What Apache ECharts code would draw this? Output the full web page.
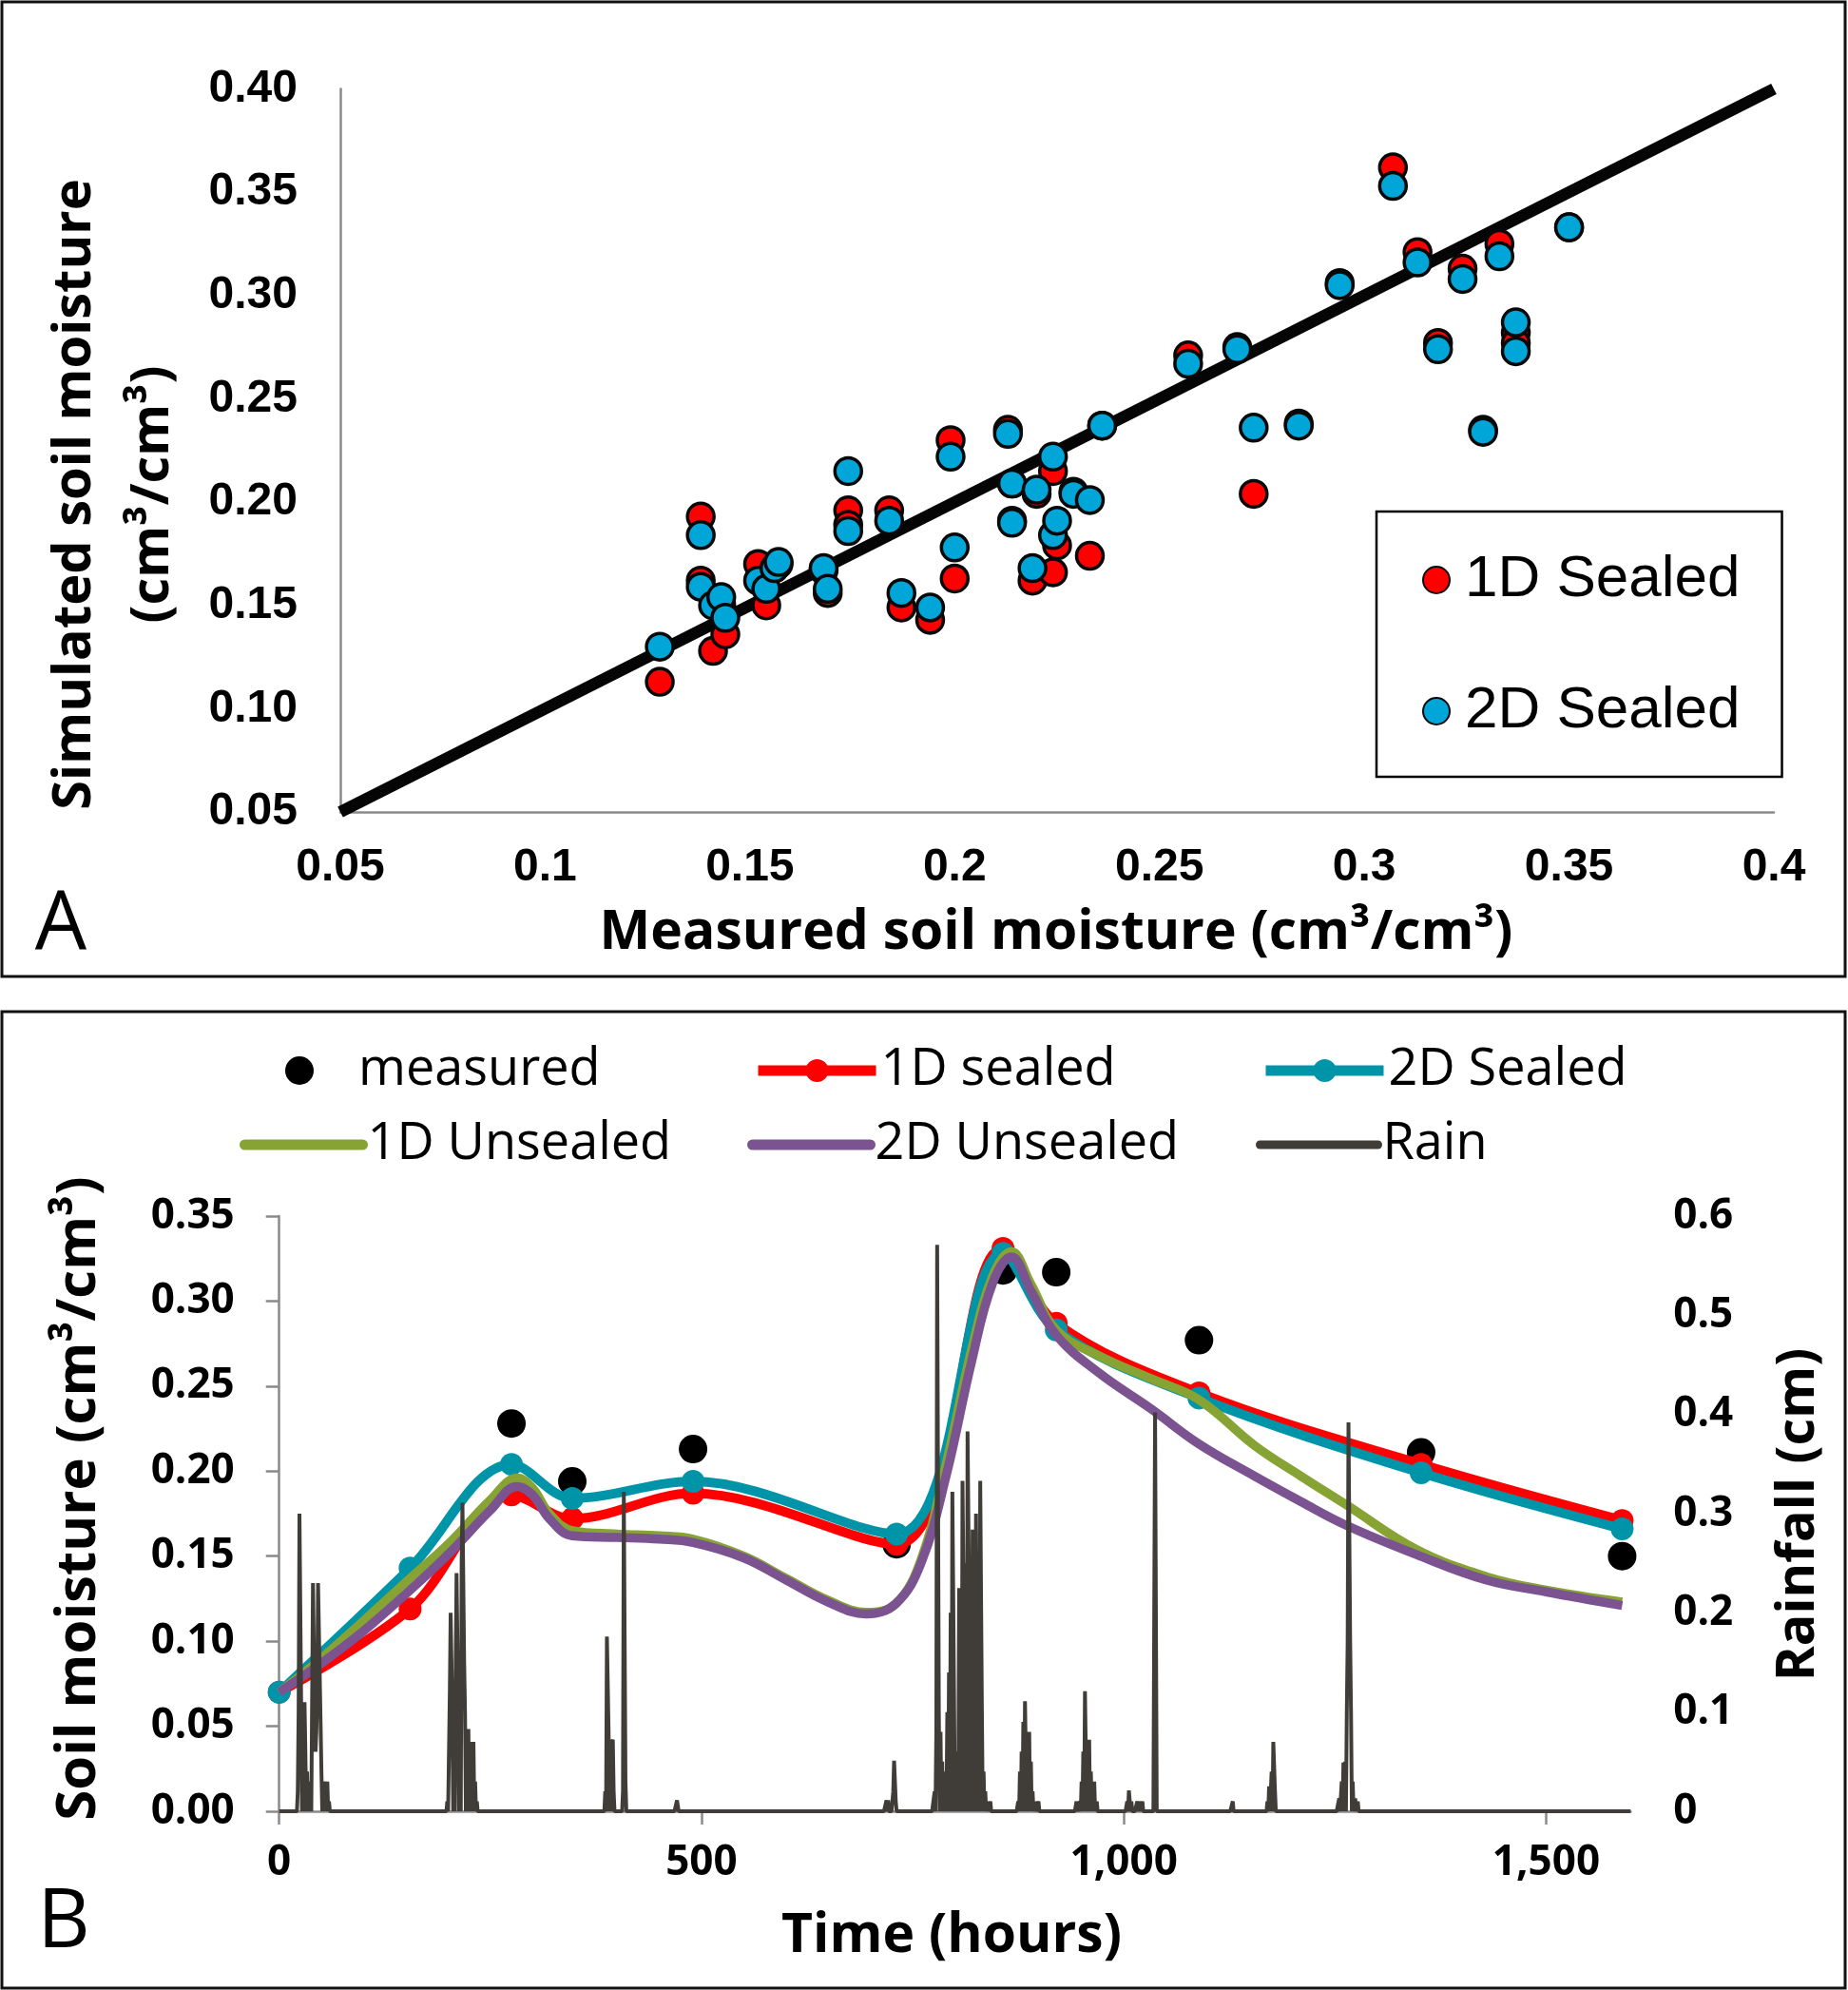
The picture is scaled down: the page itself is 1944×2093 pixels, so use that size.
<!DOCTYPE html>
<html>
<head>
<meta charset="utf-8">
<script src="https://cdn.jsdelivr.net/npm/echarts/dist/echarts.min.js"></script>
<style>
html,body{margin:0;padding:0;background:#fff;}
#c{width:1944px;height:2093px;}
</style>
</head>
<body>
<div id="c"></div>
<script>
// ---------- Panel A data ----------
const measuredA = [0.128,0.138,0.138,0.141,0.143,0.144,0.152,0.154,0.156,0.157,0.168,0.169,0.174,0.174,0.184,0.187,0.194,0.199,0.200,0.213,0.214,0.214,0.219,0.220,0.224,0.224,0.225,0.229,0.233,0.236,0.257,0.269,0.273,0.284,0.294,0.307,0.313,0.318,0.324,0.329,0.333,0.337,0.337,0.350];
const sim1DSealedA = [0.113,0.193,0.162,0.128,0.150,0.136,0.170,0.150,0.168,0.170,0.167,0.156,0.196,0.189,0.196,0.149,0.143,0.230,0.163,0.235,0.209,0.191,0.162,0.204,0.215,0.166,0.179,0.205,0.174,0.237,0.271,0.275,0.204,0.238,0.306,0.362,0.321,0.277,0.313,0.235,0.325,0.282,0.277,0.333];
const sim2DSealedA = [0.130,0.184,0.159,0.150,0.154,0.144,0.162,0.158,0.168,0.171,0.168,0.158,0.215,0.186,0.191,0.156,0.149,0.222,0.178,0.233,0.209,0.190,0.168,0.206,0.222,0.184,0.191,0.204,0.201,0.237,0.267,0.274,0.236,0.237,0.305,0.353,0.316,0.274,0.308,0.234,0.319,0.287,0.273,0.333];
const oneToOne = [0.05, 0.4];

// ---------- Panel B data ----------
const measTime = [275, 347, 490, 731, 857, 920, 1089, 1352, 1590];
const measVal  = [0.228, 0.194, 0.213, 0.157, 0.318, 0.317, 0.277, 0.211, 0.150];
const sealTime = [0, 155, 275, 347, 490, 731, 857, 920, 1089, 1352, 1590];
const sealed1D = [0.070, 0.119, 0.186, 0.172, 0.187, 0.157, 0.331, 0.287, 0.246, 0.204, 0.171];
const sealed2D = [0.070, 0.143, 0.204, 0.184, 0.194, 0.163, 0.328, 0.283, 0.243, 0.199, 0.166];
const unsealTime = [0, 50, 100, 155, 200, 250, 282, 300, 320, 347, 400, 450, 490, 550, 600, 650, 695, 730, 760, 790, 820, 845, 867, 890, 920, 970, 1034, 1089, 1155, 1210, 1264, 1346, 1429, 1500, 1590];
const unsealed1D = [0.070, 0.090, 0.112, 0.137, 0.157, 0.183, 0.196, 0.190, 0.175, 0.165, 0.163, 0.162, 0.160, 0.150, 0.137, 0.124, 0.117, 0.122, 0.148, 0.205, 0.272, 0.315, 0.329, 0.310, 0.283, 0.268, 0.254, 0.242, 0.215, 0.197, 0.180, 0.154, 0.138, 0.130, 0.123];
const unsealed2D = [0.070, 0.087, 0.106, 0.130, 0.151, 0.177, 0.191, 0.186, 0.172, 0.162, 0.161, 0.160, 0.158, 0.149, 0.136, 0.123, 0.116, 0.122, 0.146, 0.198, 0.265, 0.311, 0.326, 0.306, 0.280, 0.258, 0.236, 0.216, 0.197, 0.182, 0.168, 0.151, 0.136, 0.129, 0.121];
const rainHour = [22,23,24,25,26,28,30,31,33,35,37,40,41,42,43,44,45,46,47,48,49,50,52,55,57,59,
  199,201,202,203,204,205,207,209,210,211,212,214,216,217,218,219,220,222,224,226,228,230,232,234,
  386,388,389,390,392,394,395,396,407,408,409,410,471,472,
  719,721,727,728,729,730,
  776,778,779,780,781,783,785,787,789,791,793,795,797,798,799,801,803,805,807,809,810,811,813,815,816,817,819,821,822,823,825,826,828,830,831,832,834,836,839,842,
  875,877,879,881,883,884,886,888,890,892,895,899,
  944,948,950,952,954,955,957,959,961,963,965,968,
  1004,1006,1007,1009,1016,1019,1022,1037,1038,1129,
  1170,1172,1175,1177,1178,1179,
  1255,1258,1260,1262,1264,1265,1266,1267,1268,1269,1271,1274,1277];
const rainCm = [0.02,0.10,0.30,0.30,0.11,0.10,0.11,0.06,0.04,0.03,0.02,0.23,0.23,0.10,0.06,0.08,0.12,0.23,0.23,0.23,0.09,0.04,0.03,0.03,0.03,0.01,
  0.01,0.06,0.12,0.20,0.20,0.10,0.08,0.15,0.24,0.24,0.10,0.16,0.25,0.311,0.311,0.15,0.10,0.083,0.083,0.06,0.07,0.07,0.03,0.01,
  0.02,0.176,0.176,0.08,0.03,0.07,0.072,0.02,0.02,0.322,0.322,0.03,0.011,0.011,
  0.011,0.011,0.02,0.051,0.051,0.01,
  0.02,0.08,0.571,0.571,0.10,0.08,0.05,0.02,0.04,0.10,0.14,0.20,0.322,0.322,0.12,0.06,0.05,0.225,0.20,0.333,0.333,0.15,0.25,0.383,0.383,0.20,0.10,0.284,0.284,0.15,0.30,0.30,0.22,0.333,0.333,0.10,0.04,0.02,0.01,0.01,
  0.01,0.04,0.06,0.09,0.111,0.111,0.08,0.08,0.05,0.02,0.01,0.01,
  0.01,0.01,0.03,0.06,0.121,0.121,0.07,0.072,0.04,0.03,0.03,0.01,
  0.01,0.021,0.021,0.01,0.01,0.01,0.01,0.402,0.402,0.01,
  0.01,0.025,0.04,0.07,0.07,0.02,
  0.013,0.03,0.049,0.05,0.10,0.17,0.392,0.392,0.17,0.10,0.03,0.013,0.01];
const rainEnd = 1600;
const xTicksB = [0, 500, 1000, 1500];

// ---------- build ----------
const zip = (a, b) => a.map((v, i) => [v, b[i]]);
const rainMap = {};
rainHour.forEach((h, i) => { rainMap[h] = rainCm[i]; });
const rainSeries = [];
for (let h = 0; h <= rainEnd; h++) rainSeries.push([h, rainMap[h] || 0]);

const C = {red: '#ff0000', blueA: '#00a6d8', teal: '#0094a8', green: '#86a333', purple: '#7a5390', rain: '#403c37'};
const chart = echarts.init(document.getElementById('c'), null, {renderer: 'canvas'});
const gray = '#8a8a8a';
const fTick = 'Open Sans';
const legTxt = {fontFamily: 'Open Sans', fontSize: 54, color: '#000'};

const option = {
  animation: false,
  backgroundColor: '#fff',
  grid: [
    {left: 358, top: 93.5, width: 1508, height: 760.5},
    {left: 293.7, top: 1279, width: 1421.6, height: 626}
  ],
  xAxis: [
    {type: 'value', gridIndex: 0, min: 0.05, max: 0.4, interval: 0.05,
     axisLine: {lineStyle: {color: gray, width: 2.5}}, axisTick: {show: false}, splitLine: {show: false},
     axisLabel: {margin: 35, color: '#000', fontFamily: 'Liberation Sans', fontWeight: 'bold', fontSize: 48,
       formatter: v => String(parseFloat(v.toFixed(2)))}},
    {type: 'value', gridIndex: 1, min: 0, max: 1600, interval: 500,
     axisLine: {lineStyle: {color: gray, width: 2.5}},
     axisTick: {show: true, length: 14, lineStyle: {color: gray, width: 2.5}, customValues: xTicksB},
     splitLine: {show: false},
     axisLabel: {margin: 32, color: '#000', fontFamily: fTick, fontWeight: 'bold', fontSize: 44, customValues: xTicksB,
       formatter: v => v.toLocaleString('en-US')}}
  ],
  yAxis: [
    {type: 'value', gridIndex: 0, min: 0.05, max: 0.4, interval: 0.05,
     axisLine: {show: true, lineStyle: {color: gray, width: 2.5}}, axisTick: {show: false}, splitLine: {show: false},
     axisLabel: {margin: 45, color: '#000', fontFamily: 'Liberation Sans', fontWeight: 'bold', fontSize: 48,
       formatter: v => v.toFixed(2)}},
    {type: 'value', gridIndex: 1, min: 0, max: 0.35, interval: 0.05,
     axisLine: {show: true, lineStyle: {color: gray, width: 2.5}},
     axisTick: {show: true, length: 14, lineStyle: {color: gray, width: 2.5}}, splitLine: {show: false},
     axisLabel: {margin: 47, color: '#000', fontFamily: fTick, fontWeight: 'bold', fontSize: 44,
       formatter: v => v.toFixed(2)}},
    {type: 'value', gridIndex: 1, min: 0, max: 0.6, interval: 0.1, position: 'right',
     axisLine: {show: false}, axisTick: {show: false}, splitLine: {show: false},
     axisLabel: {margin: 45, color: '#000', fontFamily: fTick, fontWeight: 'bold', fontSize: 44,
       formatter: v => String(parseFloat(v.toFixed(1)))}}
  ],
  legend: [
    {orient: 'vertical', left: 1448, top: 538, padding: [41, 44, 38, 48], itemWidth: 50, itemHeight: 28, itemGap: 76,
     borderColor: '#000', borderWidth: 2.5, symbolKeepAspect: true,
     textStyle: {fontFamily: 'Liberation Sans', fontSize: 62, color: '#000'},
     formatter: n => n.replace(/^A: /, ''),
     data: ['A: 1D Sealed', 'A: 2D Sealed']},
    {left: 300, top: 1099, padding: 0, itemWidth: 114, itemHeight: 30, symbolKeepAspect: true,
     textStyle: legTxt, data: ['measured']},
    {left: 792, top: 1099, padding: 0, itemWidth: 124, itemHeight: 30, lineStyle: {width: 11},
     textStyle: legTxt, data: ['1D sealed']},
    {left: 1326, top: 1099, padding: 0, itemWidth: 124, itemHeight: 30, lineStyle: {width: 11},
     textStyle: legTxt, data: ['2D Sealed']},
    {left: 252, top: 1177, padding: 0, itemWidth: 124, itemHeight: 26, lineStyle: {width: 11, cap: 'round'},
     itemStyle: {opacity: 0},
     textStyle: legTxt, data: ['1D Unsealed']},
    {left: 786, top: 1177, padding: 0, itemWidth: 124, itemHeight: 26, lineStyle: {width: 11, cap: 'round'},
     itemStyle: {opacity: 0},
     textStyle: legTxt, data: ['2D Unsealed']},
    {left: 1321, top: 1177, padding: 0, itemWidth: 124, itemHeight: 26, lineStyle: {width: 9, cap: 'round'},
     itemStyle: {opacity: 0},
     textStyle: legTxt, data: ['Rain']}
  ],
  series: [
    {name: '1:1', type: 'line', xAxisIndex: 0, yAxisIndex: 0, data: zip(oneToOne, oneToOne),
     showSymbol: false, lineStyle: {color: '#050505', width: 12.5}, itemStyle: {color: '#050505'}, z: 1, silent: true},
    {name: 'A: 1D Sealed', type: 'scatter', xAxisIndex: 0, yAxisIndex: 0, data: zip(measuredA, sim1DSealedA),
     symbol: 'circle', symbolSize: 28, itemStyle: {color: C.red, borderColor: '#080808', borderWidth: 3.5, opacity: 1}, z: 3},
    {name: 'A: 2D Sealed', type: 'scatter', xAxisIndex: 0, yAxisIndex: 0, data: zip(measuredA, sim2DSealedA),
     symbol: 'circle', symbolSize: 28, itemStyle: {color: C.blueA, borderColor: '#080808', borderWidth: 3.5, opacity: 1}, z: 4},

    {name: 'measured', type: 'scatter', xAxisIndex: 1, yAxisIndex: 1, data: zip(measTime, measVal),
     symbol: 'circle', symbolSize: 30, itemStyle: {color: '#000', opacity: 1}, z: 2},
    {name: '1D sealed', type: 'line', xAxisIndex: 1, yAxisIndex: 1, data: zip(sealTime, sealed1D), smooth: 0.35,
     symbol: 'circle', symbolSize: 24, showSymbol: true, itemStyle: {color: C.red}, lineStyle: {color: C.red, width: 10}, z: 3},
    {name: '2D Sealed', type: 'line', xAxisIndex: 1, yAxisIndex: 1, data: zip(sealTime, sealed2D), smooth: 0.35,
     symbol: 'circle', symbolSize: 24, showSymbol: true, itemStyle: {color: C.teal}, lineStyle: {color: C.teal, width: 10}, z: 4},
    {name: '1D Unsealed', type: 'line', xAxisIndex: 1, yAxisIndex: 1, data: zip(unsealTime, unsealed1D), smooth: 0.4,
     showSymbol: false, symbol: 'none', itemStyle: {color: C.green}, lineStyle: {color: C.green, width: 9.5}, z: 5},
    {name: '2D Unsealed', type: 'line', xAxisIndex: 1, yAxisIndex: 1, data: zip(unsealTime, unsealed2D), smooth: 0.4,
     showSymbol: false, symbol: 'none', itemStyle: {color: C.purple}, lineStyle: {color: C.purple, width: 9.5}, z: 6},
    {name: 'Rain', type: 'line', xAxisIndex: 1, yAxisIndex: 2, data: rainSeries, showSymbol: false, symbol: 'none',
     clip: false, sampling: null, itemStyle: {color: C.rain}, lineStyle: {color: C.rain, width: 4, join: 'bevel'}, z: 7}
  ],
  graphic: [
    {type: 'rect', shape: {x: 2, y: 2, width: 1939, height: 1025}, style: {fill: null, stroke: '#111', lineWidth: 3}, silent: true},
    {type: 'rect', shape: {x: 2, y: 1064, width: 1939, height: 1027}, style: {fill: null, stroke: '#111', lineWidth: 3}, silent: true},
    {type: 'text', x: 64, y: 974, style: {text: 'A', font: '86px "Open Sans"', fill: '#000', align: 'center', verticalAlign: 'middle'}},
    {type: 'text', x: 67, y: 2023, style: {text: 'B', font: '86px "Open Sans"', fill: '#000', align: 'center', verticalAlign: 'middle'}},
    {type: 'text', x: 1111, y: 982, style: {text: 'Measured soil moisture (cm³/cm³)', font: 'bold 57px "Open Sans"', fill: '#000', align: 'center', verticalAlign: 'middle'}},
    {type: 'text', x: 120, y: 520, rotation: Math.PI / 2,
     style: {text: 'Simulated soil moisture\n(cm³/cm³)', font: 'bold 56px "Open Sans"', lineHeight: 82, fill: '#000', align: 'center', verticalAlign: 'middle'}},
    {type: 'text', x: 83, y: 1576, rotation: Math.PI / 2,
     style: {text: 'Soil moisture (cm³/cm³)', font: 'bold 58px "Open Sans"', fill: '#000', align: 'center', verticalAlign: 'middle'}},
    {type: 'text', x: 1892, y: 1593, rotation: Math.PI / 2,
     style: {text: 'Rainfall (cm)', font: 'bold 56px "Open Sans"', fill: '#000', align: 'center', verticalAlign: 'middle'}},
    {type: 'text', x: 1001, y: 2037, style: {text: 'Time (hours)', font: 'bold 57px "Open Sans"', fill: '#000', align: 'center', verticalAlign: 'middle'}}
  ]
};
chart.setOption(option);
</script>
</body>
</html>
